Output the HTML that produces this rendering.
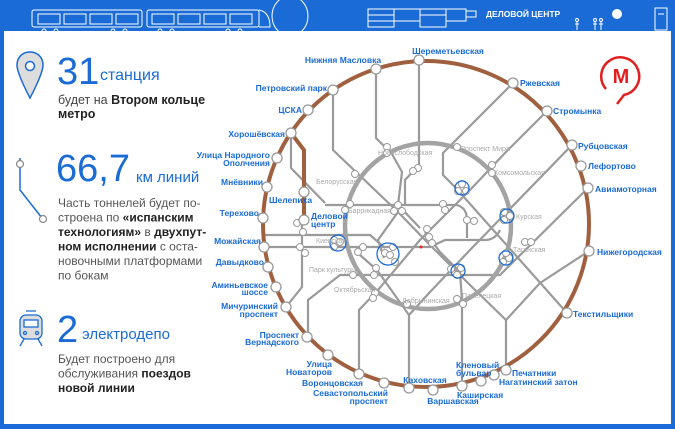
<!DOCTYPE html>
<html><head><meta charset="utf-8"><style>
html,body{margin:0;padding:0;background:#1a6bd6;}
svg{display:block}
text{font-family:"Liberation Sans","DejaVu Sans",sans-serif}
</style></head><body>
<svg width="675" height="429" viewBox="0 0 675 429" xmlns="http://www.w3.org/2000/svg">
<rect width="675" height="429" fill="#1a6bd6"/>
<rect x="4" y="31" width="667" height="393" fill="#fff"/>
<!-- top banner -->
<g fill="none" stroke="#fff" stroke-width="1">
 <rect x="32" y="10" width="110" height="17" rx="2"/>
 <rect x="147" y="10" width="112" height="17" rx="2"/>
 <path d="M259,10 Q270,12 270,27 H259"/>
 <path d="M38,14h22v10h-22zM64,14h22v10h-22zM90,14h22v10h-22zM116,14h22v10h-22zM152,14h22v10h-22zM178,14h22v10h-22zM204,14h22v10h-22zM230,14h22v10h-22z"/>
 <circle cx="44" cy="31" r="2"/><circle cx="56" cy="31" r="2"/><circle cx="113" cy="31" r="2"/><circle cx="125" cy="31" r="2"/>
 <circle cx="160" cy="31" r="2"/><circle cx="172" cy="31" r="2"/><circle cx="228" cy="31" r="2"/><circle cx="240" cy="31" r="2"/>
 <ellipse cx="290" cy="16" rx="18" ry="20"/>
 <path d="M300,37 H671"/>
 <path d="M368,9h26v18h-26zM368,15h26M368,21h26M394,9h26v12h-26zM420,9h26v18h-26zM420,15h26M446,9h20v12h-20zM466,11h10v6h-10z"/>
 <path d="M655,8h12v22h-12zM658,14h6"/>
</g>
<text x="486" y="17" font-size="8.5" font-weight="bold" fill="#fff">ДЕЛОВОЙ ЦЕНТР</text>
<g fill="none" stroke="#fff" stroke-width="1"><circle cx="577" cy="20" r="1.5"/><path d="M577,22v8M575,24h4"/><circle cx="595" cy="20" r="1.5"/><path d="M595,22v8M593,24h4"/><circle cx="601" cy="20" r="1.5"/><path d="M601,22v8M599,24h4"/></g>
<circle cx="617" cy="14" r="5" fill="#fff"/>
<!-- left panel -->
<path d="M30,52 c-9,0 -13,7 -13,13 c0,9 13,33 13,33 c0,0 13,-24 13,-33 c0,-6 -4,-13 -13,-13z" fill="#ddd" stroke="#1a6bd6" stroke-width="1.5"/>
<circle cx="30" cy="66" r="4.5" fill="#fff" stroke="#1a6bd6" stroke-width="1.5"/>
<text x="57" y="84" font-size="38" fill="#1a6bd6">31</text>
<text x="100" y="80" font-size="16" fill="#1a6bd6">станция</text>
<text x="58" y="104" font-size="12.5" fill="#444">будет на <tspan font-weight="bold" fill="#222">Втором кольце</tspan></text>
<text x="58" y="118" font-size="12.5" font-weight="bold" fill="#222">метро</text>
<path d="M20,158 V190 L42,218" fill="none" stroke="#1a6bd6" stroke-width="1.5"/>
<circle cx="20" cy="164" r="3.5" fill="#fff" stroke="#888" stroke-width="1.2"/>
<circle cx="43" cy="219" r="3.5" fill="#fff" stroke="#888" stroke-width="1.2"/>
<text x="56" y="181" font-size="38" fill="#1a6bd6">66,7</text>
<text x="136" y="182" font-size="15" fill="#1a6bd6">км линий</text>
<g font-size="12" fill="#555">
<text x="58" y="207">Часть тоннелей будет по-</text>
<text x="58" y="221.5">строена по <tspan font-weight="bold" fill="#222">«испанским</tspan></text>
<text x="58" y="236" font-weight="bold" fill="#222">технологиям» <tspan font-weight="normal" fill="#555">в</tspan> двухпут-</text>
<text x="58" y="250.5"><tspan font-weight="bold" fill="#222">ном исполнении</tspan> с оста-</text>
<text x="58" y="265">новочными платформами</text>
<text x="58" y="279.5">по бокам</text>
</g>
<g fill="none" stroke="#1a6bd6" stroke-width="1.3">
<rect x="20" y="315" width="22" height="24" rx="6" fill="#ddd"/>
<rect x="24" y="320" width="14" height="7" fill="#fff"/>
<path d="M26,311h10M24,339l-4,7M38,339l4,7"/>
<circle cx="25" cy="333" r="1.5"/><circle cx="37" cy="333" r="1.5"/>
</g>
<text x="57" y="342" font-size="38" fill="#1a6bd6">2</text>
<text x="82" y="339" font-size="15" fill="#1a6bd6">электродепо</text>
<g font-size="12" fill="#555">
<text x="58" y="363">Будет построено для</text>
<text x="58" y="377.5">обслуживания <tspan font-weight="bold" fill="#222">поездов</tspan></text>
<text x="58" y="392" font-weight="bold" fill="#222">новой линии</text>
</g>
<!-- gray lines -->
<g fill="none" stroke="#9a9a9a" stroke-width="2.2" stroke-linejoin="round">
<path d="M419,62 V165 L405,180 V205"/>
<path d="M547,111 L505,153 L470,190 L445,215 L420,240 L378,290 L359,310 V374"/>
<path d="M513,83 L457,139 L443,153 V175 L455,187 L567,313"/>
<path d="M572,145 L470,250 L430,292 L409,315 V388"/>
<path d="M588,188 L500,275 H340 L308,300 V337"/>
<path d="M506,370 V320 L540,283 L589,251"/>
<path d="M462,386 V300 L460,272 L440,252 L425,232"/>
<path d="M409,315 L377,270 L360,255"/>
<path d="M286,307 L302,287 V215"/>
<path d="M264,247 H430 L445,240 H485 Q495,240 500,230"/>
<path d="M264,235 H370 L385,248"/>
<path d="M325,205 H457 Q467,208 467,220 V238"/>
<path d="M291,133 V168 L325,203"/>
<path d="M376,69 V138 L392,154 L402,172 L398,205 L420,228"/>
<path d="M333,90 V150 L398,212 L430,245 L470,285 L506,320"/>
<path d="M384,258 L378,240 L398,212"/>
</g>
<circle cx="428" cy="226" r="83" fill="none" stroke="#a3a3a3" stroke-width="4.5"/>
<!-- brown ring -->
<circle cx="426" cy="224" r="163" fill="none" stroke="#a0603f" stroke-width="4"/>
<path d="M291,133 L304,150 V220" fill="none" stroke="#a0603f" stroke-width="4"/>
<!-- hubs -->
<g fill="#fff" stroke="#999" stroke-width="1">
<circle cx="387" cy="147" r="3.5"/><circle cx="387" cy="153" r="3.5"/><circle cx="418" cy="168" r="3.5"/><circle cx="413" cy="171" r="3.5"/>
<circle cx="355" cy="174" r="3.5"/><circle cx="350" cy="204" r="3.5"/><circle cx="345" cy="210" r="3.5"/><circle cx="398" cy="205" r="3.5"/>
<circle cx="394" cy="211" r="3.5"/><circle cx="402" cy="211" r="3.5"/><circle cx="443" cy="204" r="3.5"/><circle cx="445" cy="210" r="3.5"/>
<circle cx="462" cy="184" r="3.5"/><circle cx="458" cy="191" r="3.5"/><circle cx="466" cy="191" r="3.5"/><circle cx="467" cy="220" r="3.5"/>
<circle cx="474" cy="221" r="3.5"/><circle cx="504" cy="212" r="3.5"/><circle cx="504" cy="220" r="3.5"/><circle cx="510" cy="216" r="3.5"/>
<circle cx="427" cy="229" r="3.5"/><circle cx="429" cy="237" r="3.5"/><circle cx="432" cy="243" r="3.5"/><circle cx="385" cy="253" r="3.5"/>
<circle cx="393" cy="247" r="3.5"/><circle cx="395" cy="262" r="3.5"/><circle cx="390" cy="255" r="3.5"/><circle cx="363" cy="247" r="3.5"/>
<circle cx="358" cy="252" r="3.5"/><circle cx="376" cy="268" r="3.5"/><circle cx="374" cy="275" r="3.5"/><circle cx="353" cy="275" r="3.5"/>
<circle cx="451" cy="269" r="3.5"/><circle cx="461" cy="268" r="3.5"/><circle cx="457" cy="275" r="3.5"/><circle cx="503" cy="262" r="3.5"/>
<circle cx="509" cy="258" r="3.5"/><circle cx="506" cy="253" r="3.5"/><circle cx="375" cy="293" r="3.5"/><circle cx="373" cy="298" r="3.5"/>
<circle cx="407" cy="304" r="3.5"/><circle cx="463" cy="304" r="3.5"/><circle cx="457" cy="299" r="3.5"/><circle cx="525" cy="242" r="3.5"/>
<circle cx="334" cy="240" r="3.5"/><circle cx="334" cy="247" r="3.5"/><circle cx="340" cy="242" r="3.5"/><circle cx="492" cy="165" r="3.5"/>
<circle cx="492" cy="173" r="3.5"/><circle cx="457" cy="147" r="3.5"/><circle cx="300" cy="247" r="3.5"/><circle cx="305" cy="253" r="3.5"/>
<circle cx="297" cy="223" r="3.5"/><circle cx="303" cy="232" r="3.5"/><circle cx="531" cy="242" r="3.5"/>
</g>
<g fill="none" stroke="#1a6bd6" stroke-width="1.3">
<circle cx="388" cy="254" r="11"/><circle cx="338" cy="243" r="8"/><circle cx="462" cy="188" r="7"/><circle cx="507" cy="216" r="7"/><circle cx="506" cy="258" r="7"/><circle cx="458" cy="271" r="7"/>
</g>
<circle cx="421" cy="247" r="1.5" fill="#e22"/>
<g font-size="7" fill="#aaa">
<text x="316" y="184">Белорусская</text><text x="348" y="213">Баррикадная</text><text x="378" y="155">Новослободская</text>
<text x="460" y="151">Проспект Мира</text><text x="494" y="175">Комсомольская</text><text x="516" y="219">Курская</text>
<text x="513" y="252">Таганская</text><text x="462" y="298">Павелецкая</text><text x="402" y="303">Добрынинская</text>
<text x="334" y="292">Октябрьская</text><text x="309" y="272">Парк культуры</text><text x="316" y="243">Киевская</text>
</g>
<!-- stations -->
<g fill="#fff" stroke="#999" stroke-width="1.3">
<circle cx="419" cy="60" r="5"/><circle cx="376" cy="69" r="5"/><circle cx="333" cy="90" r="5"/><circle cx="308" cy="110" r="5"/>
<circle cx="291" cy="133" r="5"/><circle cx="277" cy="158" r="5"/><circle cx="267" cy="187" r="5"/><circle cx="304" cy="192" r="5"/>
<circle cx="263" cy="218" r="5"/><circle cx="304" cy="220" r="5"/><circle cx="264" cy="247" r="5"/><circle cx="268" cy="267" r="5"/>
<circle cx="276" cy="287" r="5"/><circle cx="286" cy="307" r="5"/><circle cx="307" cy="337" r="5"/><circle cx="328" cy="355" r="5"/>
<circle cx="359" cy="374" r="5"/><circle cx="384" cy="383" r="5"/><circle cx="409" cy="388" r="5"/><circle cx="433" cy="390" r="5"/>
<circle cx="462" cy="386" r="5"/><circle cx="481" cy="381" r="5"/><circle cx="494" cy="375" r="5"/><circle cx="506" cy="370" r="5"/>
<circle cx="567" cy="313" r="5"/><circle cx="589" cy="251" r="5"/><circle cx="588" cy="188" r="5"/><circle cx="581" cy="166" r="5"/>
<circle cx="572" cy="145" r="5"/><circle cx="547" cy="111" r="5"/><circle cx="513" cy="83" r="5"/>
</g>
<g font-size="8.5" font-weight="bold" fill="#1a6bd6">
<text x="448" y="54" text-anchor="middle">Шереметьевская</text>
<text x="343" y="63" text-anchor="middle">Нижняя Масловка</text>
<text x="327" y="91" text-anchor="end">Петровский парк</text>
<text x="302" y="113" text-anchor="end">ЦСКА</text>
<text x="285" y="137" text-anchor="end">Хорошёвская</text>
<text x="270" y="158" text-anchor="end">Улица Народного</text>
<text x="270" y="166" text-anchor="end">Ополчения</text>
<text x="263" y="185" text-anchor="end">Мнёвники</text>
<text x="269" y="203">Шелепиха</text>
<text x="259" y="216" text-anchor="end">Терехово</text>
<text x="311" y="219">Деловой</text><text x="311" y="227">центр</text>
<text x="261" y="244" text-anchor="end">Можайская</text>
<text x="264" y="265" text-anchor="end">Давыдково</text>
<text x="268" y="288" text-anchor="end">Аминьевское</text><text x="268" y="295" text-anchor="end">шоссе</text>
<text x="278" y="309" text-anchor="end">Мичуринский</text><text x="278" y="317" text-anchor="end">проспект</text>
<text x="299" y="338" text-anchor="end">Проспект</text><text x="299" y="345" text-anchor="end">Вернадского</text>
<text x="332" y="367" text-anchor="end">Улица</text><text x="332" y="375" text-anchor="end">Новаторов</text>
<text x="363" y="386" text-anchor="end">Воронцовская</text>
<text x="388" y="396" text-anchor="end">Севастопольский</text><text x="388" y="404" text-anchor="end">проспект</text>
<text x="425" y="383" text-anchor="middle">Каховская</text>
<text x="453" y="404" text-anchor="middle">Варшавская</text>
<text x="457" y="398">Каширская</text>
<text x="456" y="368">Кленовый</text><text x="456" y="376">бульвар</text>
<text x="499" y="385">Нагатинский затон</text>
<text x="512" y="376">Печатники</text>
<text x="573" y="317">Текстильщики</text>
<text x="597" y="255">Нижегородская</text>
<text x="595" y="192">Авиамоторная</text>
<text x="588" y="169">Лефортово</text>
<text x="578" y="149">Рубцовская</text>
<text x="553" y="114">Стромынка</text>
<text x="520" y="86">Ржевская</text>
</g>
<!-- metro logo -->
<path d="M606,89 A19,19 0 1 1 624,95 L617,104" fill="none" stroke="#e02020" stroke-width="2.5"/>
<text x="621" y="83" font-size="20" font-weight="bold" fill="#e02020" text-anchor="middle">М</text>
</svg>
</body></html>
